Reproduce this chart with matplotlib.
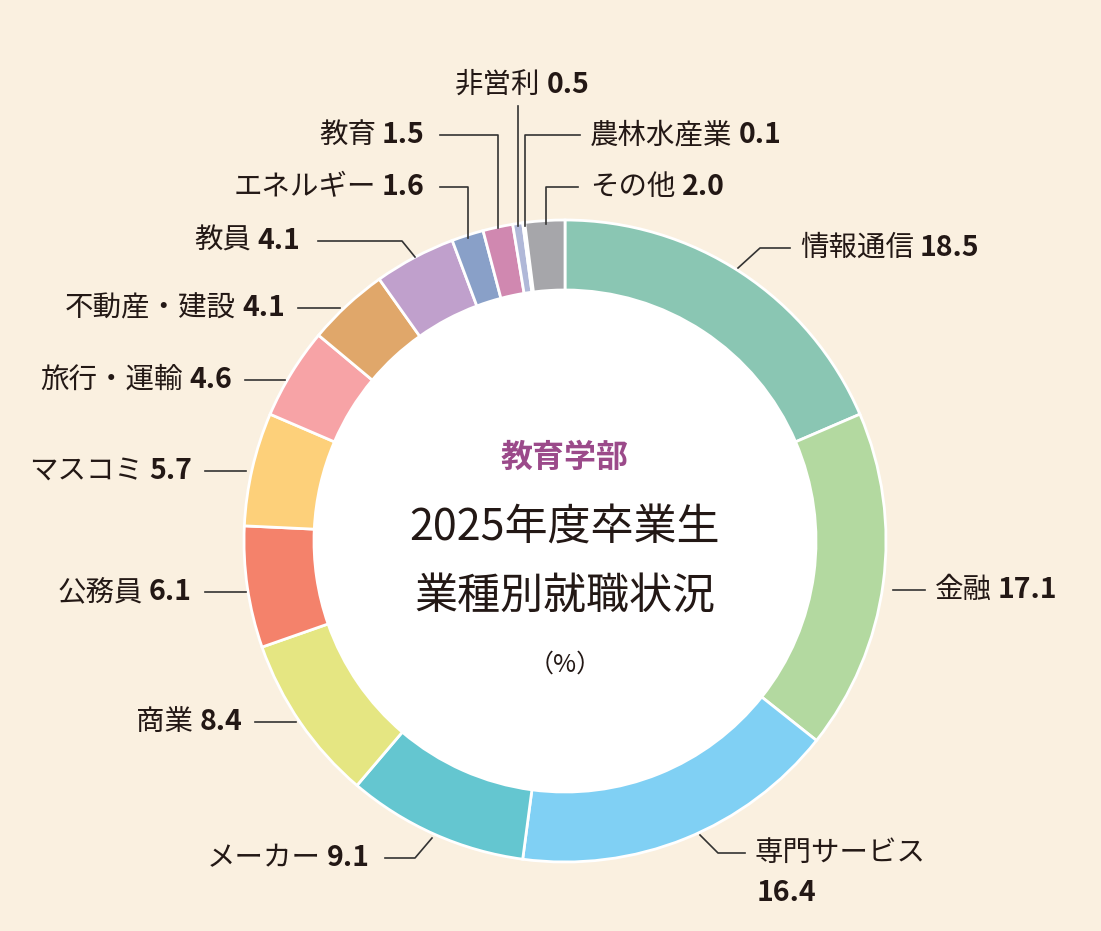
import matplotlib
matplotlib.use('Agg')
import matplotlib.pyplot as plt
from matplotlib.patches import Circle

plt.rcParams['font.family'] = ['Noto Sans CJK JP', 'DejaVu Sans']

# データ (時計回り、上から)
names = ['情報通信', '金融', '専門サービス', 'メーカー', '商業', '公務員', 'マスコミ',
         '旅行・運輸', '不動産・建設', '教員', 'エネルギー', '教育', '非営利', '農林水産業', 'その他']
values = [18.5, 17.1, 16.4, 9.1, 8.4, 6.1, 5.7, 4.6, 4.1, 4.1, 1.6, 1.5, 0.5, 0.1, 2.0]
colors = ['#8ac6b3', '#b3d9a0', '#80d0f4', '#64c6d0', '#e5e682', '#f4826b', '#fdd07a',
          '#f7a3a6', '#e0a76a', '#c0a0cc', '#89a0c8', '#d088b0', '#b0b8d8', '#9fd0e0', '#a6a6aa']

# ラベル位置: (x, y, 揃え, 引き出し線)
label_pos = [
    (800, 248, 'left', [(790, 248), (760, 248), (738, 268)]),
    (935, 590, 'left', [(925, 590), (893, 590)]),
    (755, 853, 'left', [(745, 853), (718, 853), (700, 835)]),
    (370, 858, 'right', [(385, 858), (415, 858), (432, 838)]),
    (242, 722, 'right', [(255, 722), (296, 722)]),
    (192, 592, 'right', [(205, 592), (246, 592)]),
    (192, 471, 'right', [(205, 471), (246, 471)]),
    (232, 380, 'right', [(245, 380), (285, 380)]),
    (285, 308, 'right', [(298, 308), (340, 308)]),
    (300, 241, 'right', [(318, 241), (402, 241), (415, 257)]),
    (425, 187, 'right', [(440, 187), (468, 187), (468, 238)]),
    (425, 135, 'right', [(440, 135), (498, 135), (498, 228)]),
    (522, 85, 'center', [(518, 106), (518, 226)]),
    (590, 135, 'left', [(580, 135), (525, 135), (525, 226)]),
    (590, 187, 'left', [(578, 187), (546, 187), (546, 224)]),
]

W, H = 1101, 931
fig = plt.figure(figsize=(W / 100, H / 100), dpi=100)
fig.patch.set_facecolor('#faf0e0')
ax = fig.add_axes([0, 0, 1, 1])

cx, cy, r = 565, 541, 321
# y軸を反転するので、startangle=-90・反時計回りで見た目は上から時計回り
ax.pie(values, colors=colors, startangle=-90, counterclock=True, center=(cx, cy),
       radius=r, wedgeprops=dict(width=70, edgecolor='white', linewidth=2), frame=True)
ax.add_patch(Circle((cx, cy), r - 70, facecolor='white', edgecolor='none', zorder=0.5))
ax.set_xlim(0, W)
ax.set_ylim(H, 0)
ax.axis('off')

fig.canvas.draw()
rend = fig.canvas.get_renderer()
fs = 20.5
tc = '#231815'
gap = 6


def width_data(t):
    return t.get_window_extent(renderer=rend).width  # 1px = 1 data unit


for name, val, (x, y, ha, line) in zip(names, values, label_pos):
    xs = [p[0] for p in line]
    ys = [p[1] for p in line]
    ax.plot(xs, ys, color='#333333', lw=1.2)
    vs = f'{val:.1f}'
    if name == '専門サービス':
        ax.text(x, y, name, fontsize=fs, ha='left', va='center', color=tc)
        ax.text(x + 2, y + 40, vs, fontsize=fs, fontweight='bold', ha='left', va='center', color=tc)
        continue
    if ha == 'left':
        t = ax.text(x, y, name, fontsize=fs, ha='left', va='center', color=tc)
        w = width_data(t)
        ax.text(x + w + gap, y, vs, fontsize=fs, fontweight='bold', ha='left', va='center', color=tc)
    elif ha == 'right':
        t = ax.text(x, y, vs, fontsize=fs, fontweight='bold', ha='right', va='center', color=tc)
        w = width_data(t)
        ax.text(x - w - gap, y, name, fontsize=fs, ha='right', va='center', color=tc)
    else:
        t1 = ax.text(0, 0, name, fontsize=fs)
        t2 = ax.text(0, 0, vs, fontsize=fs, fontweight='bold')
        w1, w2 = width_data(t1), width_data(t2)
        t1.remove(); t2.remove()
        left = x - (w1 + w2 + gap) / 2
        ax.text(left, y, name, fontsize=fs, ha='left', va='center', color=tc)
        ax.text(left + w1 + gap, y, vs, fontsize=fs, fontweight='bold', ha='left', va='center', color=tc)

ax.text(cx, 458, '教育学部', fontsize=23, fontweight='bold', color='#9b4a8a', ha='center', va='center')
ax.text(cx, 528, '2025年度卒業生', fontsize=31, color=tc, ha='center', va='center')
ax.text(cx, 598, '業種別就職状況', fontsize=31, color=tc, ha='center', va='center')
ax.text(cx, 665, '（%）', fontsize=18, color=tc, ha='center', va='center')

fig.savefig('out.png', dpi=100, facecolor=fig.get_facecolor())
